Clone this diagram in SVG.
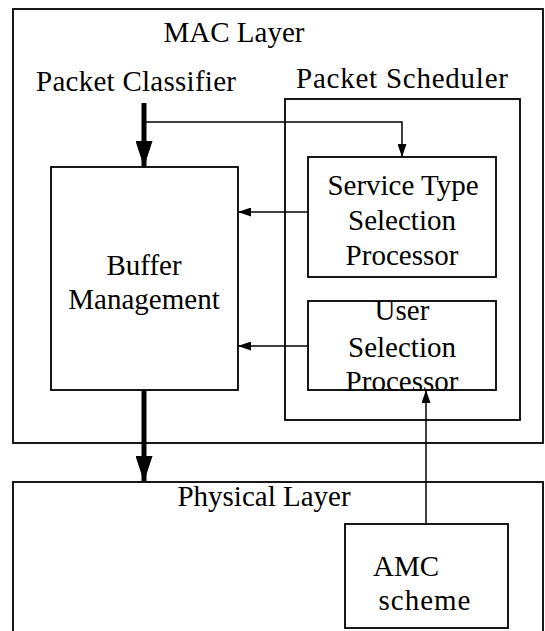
<svg xmlns="http://www.w3.org/2000/svg" width="545" height="631" viewBox="0 0 545 631">
<defs>
<style>
.box{fill:none;stroke:#000;stroke-width:1.8}
.t{font-family:"Liberation Serif","Times New Roman",serif;font-size:29px;fill:#000;text-anchor:middle}
.thin{fill:none;stroke:#000;stroke-width:1.5}
.thick{fill:none;stroke:#000;stroke-width:5}
</style>
<marker id="ah" viewBox="0 0 10 10" refX="10" refY="5" markerWidth="13" markerHeight="9" markerUnits="userSpaceOnUse" orient="auto" preserveAspectRatio="none"><path d="M0,0 L10,5 L0,10 z" fill="#000"/></marker>
<marker id="ahb" viewBox="0 0 10 10" refX="10" refY="5" markerWidth="26" markerHeight="17" markerUnits="userSpaceOnUse" orient="auto" preserveAspectRatio="none"><path d="M0,0 L10,5 L0,10 z" fill="#000"/></marker>
</defs>
<rect width="545" height="631" fill="#fff"/>
<g id="mac-layer"><rect class="box" x="13" y="9" width="530" height="434"/><text class="t" x="234" y="42">MAC Layer</text></g>
<g id="physical-layer"><rect class="box" x="13" y="482" width="530" height="160"/><text class="t" x="264" y="506">Physical Layer</text></g>
<g id="packet-classifier"><text class="t" x="136" y="91" textLength="200" lengthAdjust="spacing">Packet Classifier</text></g>
<g id="packet-scheduler"><rect class="box" x="285" y="99" width="235" height="321"/><text class="t" x="402" y="88" textLength="212" lengthAdjust="spacing">Packet Scheduler</text></g>
<g id="service-type"><rect class="box" x="308" y="157" width="188" height="120"/><text class="t" x="403" y="195">Service Type</text><text class="t" x="402" y="230">Selection</text><text class="t" x="402" y="265">Processor</text></g>
<g id="user-selection"><rect class="box" x="308" y="301" width="188" height="89"/><text class="t" x="402" y="320">User</text><text class="t" x="402" y="357">Selection</text><text class="t" x="402" y="391">Processor</text></g>
<g id="buffer-management"><rect class="box" x="51" y="167" width="187" height="223"/><text class="t" x="144" y="275">Buffer</text><text class="t" x="144" y="309">Management</text></g>
<g id="amc-scheme"><rect class="box" x="345" y="524" width="163" height="104"/><text class="t" x="406" y="576">AMC</text><text class="t" x="425" y="610" letter-spacing="1">scheme</text></g>
<g id="connectors">
<line class="thick" x1="144" y1="103" x2="144" y2="167" marker-end="url(#ahb)"/>
<polyline class="thin" points="144,122 402,122 402,157" marker-end="url(#ah)"/>
<line class="thin" x1="308" y1="212" x2="238" y2="212" marker-end="url(#ah)"/>
<line class="thin" x1="308" y1="346" x2="238" y2="346" marker-end="url(#ah)"/>
<line class="thick" x1="144" y1="390" x2="144" y2="482" marker-end="url(#ahb)"/>
<line class="thin" x1="426" y1="524" x2="426" y2="390" marker-end="url(#ah)"/>
</g>
</svg>
